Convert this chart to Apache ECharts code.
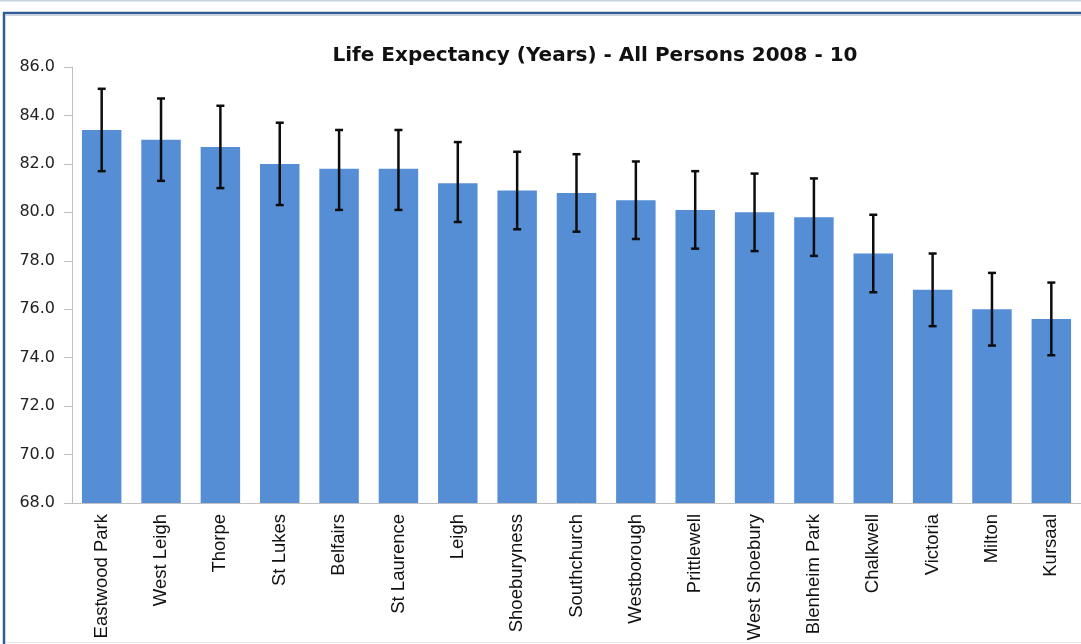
<!DOCTYPE html>
<html>
<head>
<meta charset="utf-8">
<script src="https://cdn.jsdelivr.net/npm/echarts@6/dist/echarts.min.js"></script>
<style>
html,body{margin:0;padding:0;background:#fff;}
#chart{width:1081px;height:644px;}
</style>
</head>
<body>
<div id="chart"></div>
<script>
const categories = ["Eastwood Park","West Leigh","Thorpe","St Lukes","Belfairs","St Laurence","Leigh","Shoeburyness","Southchurch","Westborough","Prittlewell","West Shoebury","Blenheim Park","Chalkwell","Victoria","Milton","Kursaal"];
const values = [83.4, 83.0, 82.7, 82.0, 81.8, 81.8, 81.2, 80.9, 80.8, 80.5, 80.1, 80.0, 79.8, 78.3, 76.8, 76.0, 75.6];
const lowerCI = [81.7, 81.3, 81.0, 80.3, 80.1, 80.1, 79.6, 79.3, 79.2, 78.9, 78.5, 78.4, 78.2, 76.7, 75.3, 74.5, 74.1];
const upperCI = [85.1, 84.7, 84.4, 83.7, 83.4, 83.4, 82.9, 82.5, 82.4, 82.1, 81.7, 81.6, 81.4, 79.9, 78.3, 77.5, 77.1];
const titleText = "Life Expectancy (Years) - All Persons 2008 - 10";
const yMin = 68, yMax = 86, yStep = 2;

const chart = echarts.init(document.getElementById('chart'), null, {renderer: 'canvas'});
const errData = categories.map((c, i) => [i, lowerCI[i], upperCI[i]]);

chart.setOption({
  backgroundColor: '#ffffff',
  animation: false,
  title: {
    text: titleText,
    left: 590,
    textAlign: 'center',
    top: 41,
    textStyle: {fontFamily: 'DejaVu Sans', fontWeight: 'bold', fontSize: 20, color: '#111'}
  },
  grid: {left: 72, right: -1, top: 67, bottom: 141, containLabel: false},
  xAxis: {
    type: 'category',
    data: categories,
    axisLine: {show: true, lineStyle: {color: '#c0c0c0', width: 1}},
    axisTick: {show: false},
    axisLabel: {
      rotate: 90, interval: 0, margin: 11,
      fontFamily: 'Liberation Sans', fontSize: 18.5, color: '#111'
    },
    splitLine: {show: false}
  },
  yAxis: {
    type: 'value',
    min: yMin, max: yMax, interval: yStep,
    axisLine: {show: true, lineStyle: {color: '#c0c0c0', width: 1}},
    axisTick: {show: true, length: 8, lineStyle: {color: '#c0c0c0'}},
    axisLabel: {
      margin: 17,
      fontFamily: 'DejaVu Sans', fontSize: 16, color: '#222',
      formatter: v => v.toFixed(1)
    },
    splitLine: {show: false}
  },
  series: [
    {
      type: 'bar',
      data: values,
      barWidth: '66.5%',
      itemStyle: {color: '#558ed5'},
      z: 2
    },
    {
      type: 'custom',
      data: errData,
      z: 5,
      renderItem: function (params, api) {
        const x = api.value(0);
        const lo = api.coord([x, api.value(1)]);
        const hi = api.coord([x, api.value(2)]);
        const cap = 4;
        const style = {stroke: '#0d0d0d', lineWidth: 2.5};
        return {
          type: 'group',
          children: [
            {type: 'line', shape: {x1: lo[0], y1: lo[1], x2: hi[0], y2: hi[1]}, style: style},
            {type: 'line', shape: {x1: lo[0] - cap, y1: lo[1], x2: lo[0] + cap, y2: lo[1]}, style: style},
            {type: 'line', shape: {x1: hi[0] - cap, y1: hi[1], x2: hi[0] + cap, y2: hi[1]}, style: style}
          ]
        };
      }
    }
  ],
  graphic: [
    {type: 'line', shape: {x1: 0, y1: 0.5, x2: 1081, y2: 0.5}, style: {stroke: '#c6d3e1', lineWidth: 2}},
    {type: 'polyline', shape: {points: [[4, 644], [4, 13], [1081, 13]]}, style: {stroke: '#2f5c93', lineWidth: 2.5, fill: null}},
    {type: 'line', shape: {x1: 6, y1: 15.5, x2: 1081, y2: 15.5}, style: {stroke: '#c9d2dc', lineWidth: 1}},
    {type: 'line', shape: {x1: 6, y1: 642.5, x2: 1081, y2: 642.5}, style: {stroke: '#e6e6e6', lineWidth: 1}}
  ]
});
</script>
</body>
</html>
